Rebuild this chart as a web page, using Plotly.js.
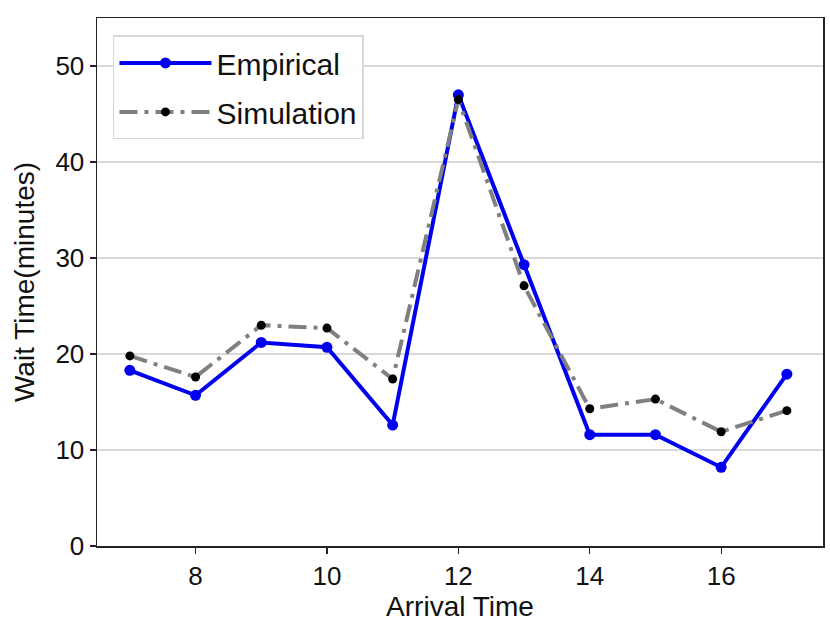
<!DOCTYPE html>
<html>
<head>
<meta charset="utf-8">
<script src="https://cdn.plot.ly/plotly-3.0.1.min.js"></script>
<style>html,body{margin:0;padding:0;background:#fff;}#chart{width:830px;height:642px;}</style>
</head>
<body>
<div id="chart"></div>
<script>
const arrivalTimes = [7, 8, 9, 10, 11, 12, 13, 14, 15, 16, 17];
const empirical = [18.3, 15.7, 21.2, 20.7, 12.6, 47.0, 29.3, 11.6, 11.6, 8.2, 17.9];
const simulation = [19.8, 17.6, 23.0, 22.7, 17.4, 46.5, 27.1, 14.3, 15.3, 11.9, 14.1];
const xTicks = [8, 10, 12, 14, 16];
const yTicks = [0, 10, 20, 30, 40, 50];

const font = "Liberation Sans, Arial, sans-serif";

const traces = [
  {
    x: arrivalTimes, y: empirical, name: "Empirical", mode: "lines+markers",
    legendgroup: "emp",
    line: {color: "#0000ee", width: 4},
    marker: {color: "#0000ee", size: 11}
  },
  {
    x: arrivalTimes, y: simulation, name: "Simulation", mode: "lines+markers",
    legendgroup: "sim",
    line: {color: "#808080", width: 4, dash: "18px,7px,4px,7px"},
    marker: {color: "#000000", size: 9}
  }
];

const layout = {
  width: 830, height: 642,
  margin: {l: 97, r: 7, t: 18, b: 96},
  paper_bgcolor: "#fff", plot_bgcolor: "#fff",
  font: {family: font, color: "#111", size: 26},
  showlegend: true,
  legend: {
    x: 0.022, y: 0.967, xanchor: "left", yanchor: "top",
    bgcolor: "rgba(255,255,255,0.9)", bordercolor: "#d8d8d8", borderwidth: 1.5,
    font: {family: font, size: 30, color: "#111"},
    itemwidth: 92, traceorder: "grouped", tracegroupgap: 7
  },
  xaxis: {
    range: [6.5, 17.55], tickvals: xTicks, ticktext: xTicks.map(String),
    ticks: "outside", ticklen: 6, tickwidth: 1.2, tickcolor: "#222",
    showline: true, linecolor: "#222", linewidth: 1.5, mirror: true,
    showgrid: false, zeroline: false,
    tickfont: {family: font, size: 26, color: "#111"},
    title: {text: "Arrival Time", font: {family: font, size: 28, color: "#111"}, standoff: 6}
  },
  yaxis: {
    range: [0, 55], tickvals: yTicks, ticktext: yTicks.map(String),
    ticks: "outside", ticklen: 6, tickwidth: 1.2, tickcolor: "#222",
    showline: true, linecolor: "#222", linewidth: 1.5, mirror: true,
    showgrid: true, gridcolor: "#d9d9d9", gridwidth: 1.5, zeroline: false,
    tickfont: {family: font, size: 26, color: "#111"},
    title: {text: "Wait Time(minutes)", font: {family: font, size: 28, color: "#111"}, standoff: 12}
  }
};

Plotly.newPlot("chart", traces, layout, {displayModeBar: false, staticPlot: true});
</script>
</body>
</html>
